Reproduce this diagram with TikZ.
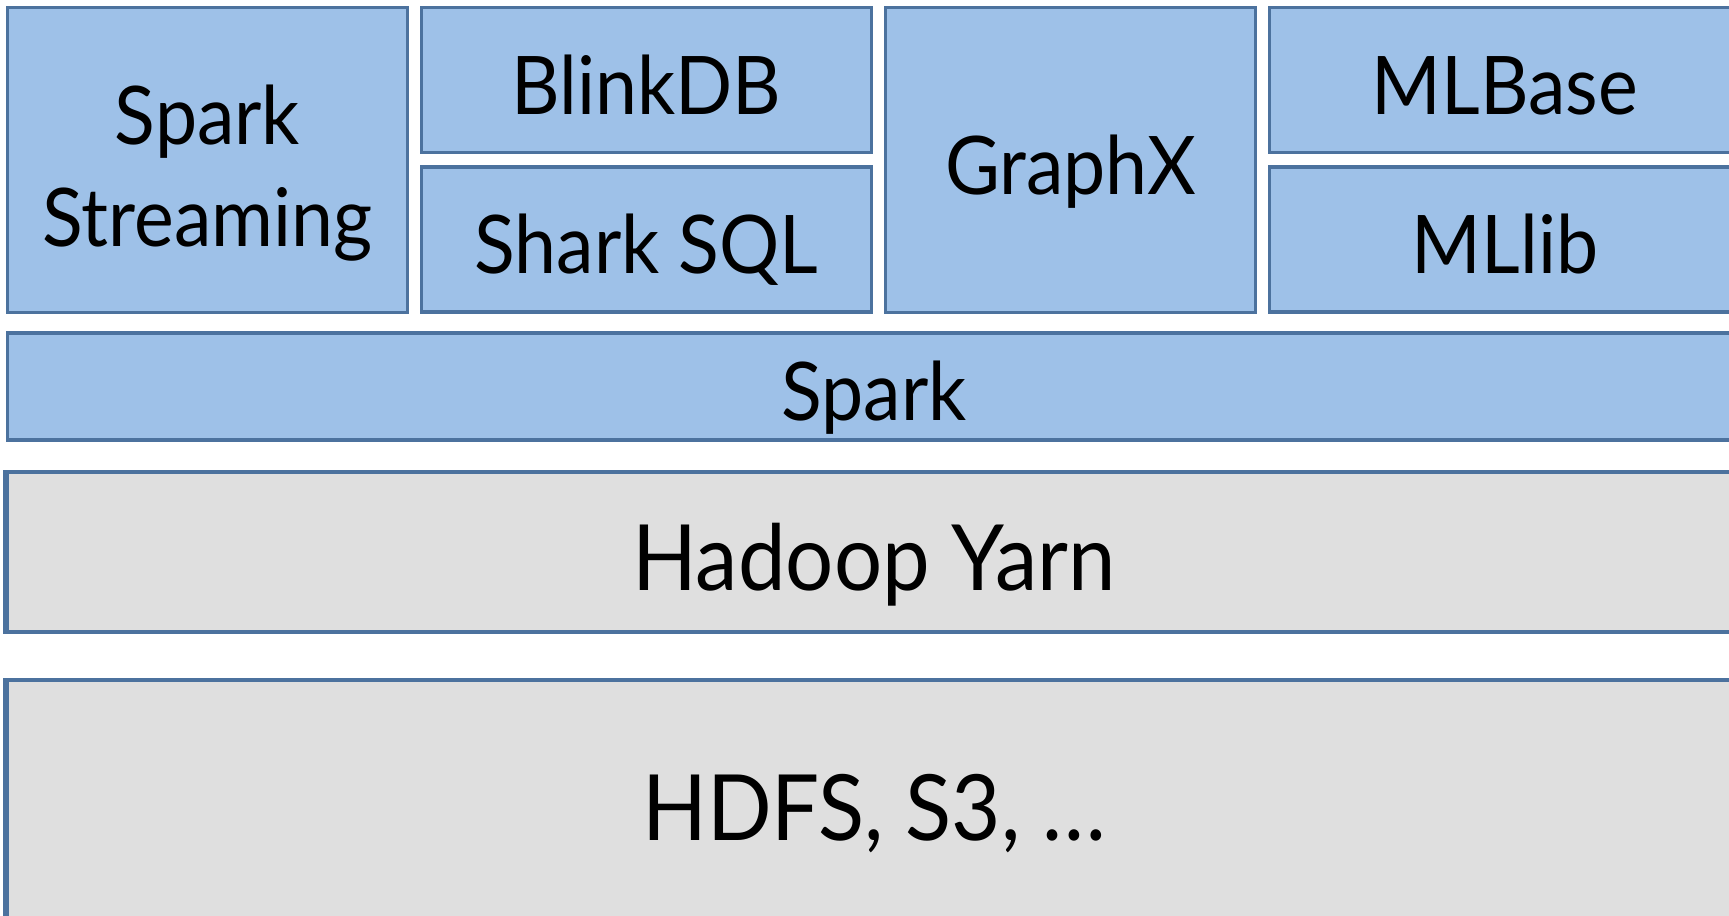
\documentclass[tikz,border=0pt]{standalone}
\usepackage{fontspec}
\setmainfont[FakeStretch=0.93]{Lato}
\definecolor{boxline}{RGB}{76,114,158}
\definecolor{bluefill}{RGB}{158,193,232}
\definecolor{grayfill}{RGB}{223,223,223}
\begin{document}
\begin{tikzpicture}[x=0.01cm,y=-0.01cm,
	layer/.style={draw=boxline, line width=0.9pt, inner sep=0pt, text height=23pt, text depth=3.5pt, font=\fontsize{23}{29}\selectfont},
	bluebox/.style={layer, fill=bluefill},
	graybox/.style={layer, fill=grayfill, text height=26pt, text depth=4pt, font=\fontsize{26}{31}\selectfont}]

	\useasboundingbox (0,0) rectangle (1729,916);
	\clip (0,0) rectangle (1729,916);

	% top row
	\node [bluebox, minimum width=3.99cm, minimum height=3.045cm] (stream) at (207.5,160) {};
	\node [align=center, inner sep=0pt, font=\fontsize{23}{29}\selectfont] (streamtext) at (207.5,173) {Spark\\Streaming};
	\node [bluebox, minimum width=4.49cm, minimum height=1.445cm] (blink) at (646.5,80) {BlinkDB};
	\node [bluebox, minimum width=4.49cm, minimum height=1.45cm] (shark) at (646.5,239.5) {Shark SQL};
	\node [bluebox, minimum width=3.69cm, minimum height=3.045cm] (graphx) at (1070.5,160) {GraphX};
	\node [bluebox, minimum width=4.70cm, minimum height=1.445cm] (mlbase) at (1505,80) {MLBase};
	\node [bluebox, minimum width=4.70cm, minimum height=1.45cm] (mllib) at (1505,239.5) {MLlib};

	% lower layers
	\node [bluebox, minimum width=17.32cm, minimum height=1.07cm] (spark) at (874,386.5) {Spark};
	\node [graybox, minimum width=17.32cm, minimum height=1.60cm] (yarn) at (874,552) {Hadoop Yarn};
	\node [graybox, minimum width=17.32cm, minimum height=2.44cm] (hdfs) at (874,802) {HDFS, S3, \dots};

	\draw [boxline, line width=1.6pt] (yarn.north west) -- (yarn.south west);
	\draw [boxline, line width=1.6pt] (hdfs.north west) -- (hdfs.south west);
\end{tikzpicture}
\end{document}
